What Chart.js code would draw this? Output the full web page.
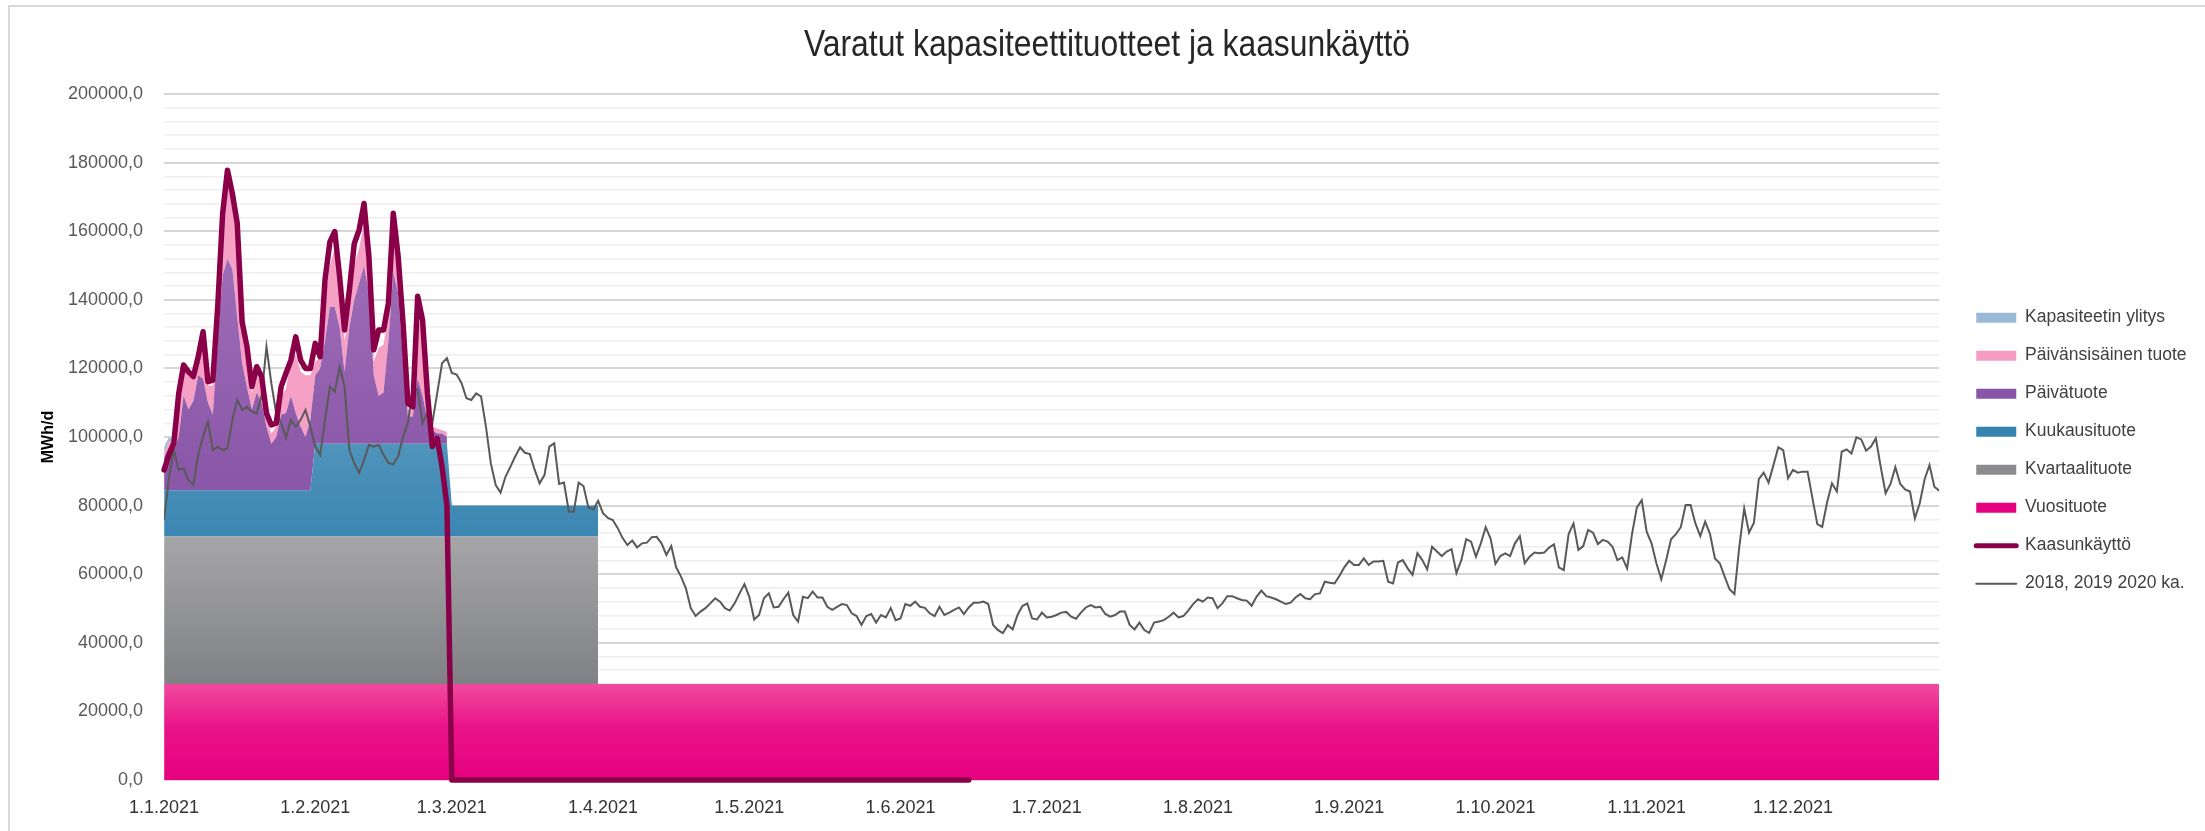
<!DOCTYPE html>
<html lang="fi">
<head>
<meta charset="utf-8">
<title>Varatut kapasiteettituotteet ja kaasunkäyttö</title>
<script src="https://cdn.jsdelivr.net/npm/chart.js@4.4.1/dist/chart.umd.min.js"></script>
<style>
  html, body { margin: 0; padding: 0; background: #fff; overflow: hidden; }
  #frame { position: absolute; left: 8px; top: 5px; width: 2400px; height: 1000px;
           border-left: 2px solid #d9d9d9; border-top: 2px solid #d9d9d9; }
  #chart { position: absolute; left: 0; top: 0; }
</style>
</head>
<body>
<div id="frame"></div>
<canvas id="chart" width="2205" height="831"></canvas>
<script>
const SANS = "'Liberation Sans', Arial, sans-serif";

// x axis: day of year 2021 (0 = 1.1.), ticks at month starts
const monthLabels = ['1.1.2021', '1.2.2021', '1.3.2021', '1.4.2021', '1.5.2021', '1.6.2021',
  '1.7.2021', '1.8.2021', '1.9.2021', '1.10.2021', '1.11.2021', '1.12.2021'];
const monthStart = [0, 31, 59, 90, 120, 151, 181, 212, 243, 273, 304, 334];

// capacity products as [first day, last day, MWh/d]
const vuosituote = [[0, 364, 28000]];
const kvartaalituote = [[0, 89, 43000]];
const kuukausituote = [[0, 30, 13500], [31, 58, 27000], [59, 89, 9000]];

// daily products 1.1.-28.2. (MWh/d)
const paivatuote = [
  9500, 12500, 11500, 15500, 27500, 23500, 26000, 33500, 32500, 25500, 22000, 43500, 62500, 67500, 64500, 50500,
  37000, 30000, 23500, 28500, 25500, 18500, 13500, 15500, 22000, 22500, 27500, 22500, 18500, 15500, 20500,
  20000, 22000, 30000, 40000, 40000, 34000, 21000, 34000, 42000, 47000, 52000, 44000, 20000, 14000,
  15000, 30000, 50000, 44000, 24000, 8000, 8000, 19000, 14000, 7000, 4000, 3000, 3000, 2000];
const paivansisainen = [
  1500, 1500, 3000, 10000, 8000, 10000, 6500, 5000, 11000, 5000, 8500, 8000, 15000, 23000, 19000, 23000,
  9500, 7500, 5000, 5000, 6000, 3000, 3000, 3000, 5500, 7000, 10000, 17000, 16000, 18000, 13000,
  4000, 3000, 12000, 12000, 17000, 11000, 9000, 6000, 10000, 10000, 12000, 6000, 4000, 14000,
  14000, 7000, 10000, 6000, 6000, 2000, 2000, 18000, 18000, 5000, 1000, 1500, 1000, 1500];
const ylitys = [
  1500, 1500, 0, 0, 2000, 0, 0, 0, 0, 0, 0, 0, 0, 1000, 0, 0,
  0, 0, 0, 3000, 0, 0, 0, 0, 0, 0, 1000, 0, 0, 0, 0,
  0, 0, 0, 0, 0, 0, 0, 0, 0, 0, 0, 0, 0, 0,
  0, 0, 0, 0, 0, 0, 0, 0, 0, 0, 0, 0, 0, 0];

// gas use 1.1.-28.2., after that zero until 15.6.
const kaasunkaytto = [
  90400, 94800, 98200, 112700, 121000, 119000, 117600, 123400, 130700, 116100, 116600, 138000, 165000, 177800, 171000, 162300,
  133600, 126300, 114700, 120500, 117600, 106900, 103500, 104000, 114700, 118600, 122400, 129200, 122400, 120000, 120000,
  127300, 123400, 145800, 156900, 159900, 146700, 131200, 142900, 156400, 160400, 168100, 152600, 125400, 131200,
  131200, 139000, 165200, 152600, 133200, 109800, 108800, 141000, 134100, 112700, 97200, 99600, 91300, 80000];
const kaasuNolla = [59, 165];

// 2018, 2019 2020 average, one value per day
const keskiarvo = [
  // tammi
  75800, 88000, 96200, 90400, 90800, 87400, 86000, 94800, 100100, 104500, 96200, 97200, 96200, 96700, 105000, 110800,
  107900, 108800, 107400, 106900, 112000, 126300, 115600, 106900, 104000, 99700, 105000, 103000, 105000, 107900, 103000,
  // helmi
  97200, 94800, 105000, 114700, 113200, 120500, 114700, 96200, 92400, 89500, 93300, 97700, 97200, 97700,
  94800, 92400, 92000, 94400, 100100, 104000, 114700, 113700, 104000, 106900, 104000, 112700, 121500, 123000,
  // maalis
  118700, 118200, 115700, 111300, 110800, 112700, 111800, 103000, 92300, 86000, 83800, 88400, 91300, 94300, 97000, 95400,
  95000, 90400, 86500, 88900, 97200, 98200, 86300, 86700, 78200, 78200, 86700, 85700, 79500, 78900, 81400,
  // huhti
  77800, 76400, 75800, 73500, 70600, 68500, 69800, 67800, 69000, 69200, 70800, 70900, 69000, 65600, 68200,
  62000, 59300, 55900, 50100, 47800, 49100, 50100, 51500, 53000, 52000, 50100, 49400, 51500, 54400, 57100,
  // touko
  53400, 46800, 48100, 53000, 54400, 50300, 50500, 52700, 54600, 48100, 46200, 53400, 53000, 54900, 53200, 53200,
  50500, 49600, 50500, 51300, 51000, 48600, 47800, 45200, 47800, 48400, 45900, 48100, 47400, 50100, 46600,
  // kesä
  47100, 51300, 50800, 52000, 50500, 50200, 48600, 47800, 50500, 48100, 48800, 49600, 50300, 48400, 50300,
  51700, 51700, 52000, 51300, 45200, 43700, 42800, 45200, 43900, 48100, 50700, 51500, 47100, 46800, 48800,
  // heinä
  47400, 47600, 48100, 48800, 49000, 47600, 47000, 48800, 50300, 51000, 50300, 50500, 48400, 47600, 48100, 49100,
  49100, 45200, 43900, 45900, 43700, 42900, 45900, 46200, 46600, 47600, 48800, 47400, 47800, 49400, 51300,
  // elo
  52700, 52000, 53200, 53000, 50100, 51500, 53600, 53600, 53000, 52500, 52300, 50800, 53400, 55200, 53600, 53200,
  52700, 52000, 51300, 51700, 53200, 54200, 53000, 52700, 54200, 54400, 57800, 57500, 57300, 59500, 62000,
  // syys
  63900, 62700, 62700, 64600, 62700, 63700, 63700, 63900, 57800, 57300, 63400, 64100, 61700, 59800, 66100,
  64100, 61400, 68000, 66600, 65300, 66600, 67300, 60300, 64100, 70200, 69500, 65100, 69000, 73700, 70400,
  // loka
  63000, 65300, 66100, 65300, 69000, 71100, 63200, 65100, 66300, 66100, 66300, 67800, 68700, 62000, 61200, 71700,
  74800, 67100, 68200, 72900, 72100, 68800, 70000, 69500, 68000, 64100, 64900, 61700, 71700, 79500, 81600,
  // marras
  72400, 69000, 63200, 58500, 64100, 70200, 71700, 73700, 80200, 80200, 74800, 71100, 75300, 71700, 64600,
  63200, 59300, 55600, 54200, 68000, 79200, 72100, 75000, 87700, 89600, 86700, 91800, 97000, 96200, 88000,
  // joulu
  90400, 89600, 89900, 89900, 82100, 74600, 73800, 80900, 86500, 84100, 95700, 96400, 95200, 99900, 99300, 96000,
  97200, 99600, 91300, 83600, 86300, 91200, 86300, 84700, 84100, 76300, 80700, 87700, 91800, 85500, 84300];

function daily(values) {
  return values.map((v, i) => ({ x: i, y: v }));
}

function periods(list) {
  const out = [];
  list.forEach(([first, last, v]) => {
    for (let d = first; d <= last; d++) out.push({ x: d, y: v });
  });
  return out;
}

function gradient(top, bottom, stops) {
  return function (ctx) {
    const chart = ctx.chart;
    const y = chart.scales && chart.scales.y;
    const fallback = stops[stops.length - 1][1];
    if (!chart.chartArea || !y) return fallback;
    const y0 = y.getPixelForValue(top);
    const y1 = y.getPixelForValue(bottom);
    if (!isFinite(y0) || !isFinite(y1)) return fallback;
    const g = chart.ctx.createLinearGradient(0, y0, 0, y1);
    stops.forEach(([o, c]) => g.addColorStop(o, c));
    return g;
  };
}

function area(label, data, fill, bg, legendColor) {
  return {
    label, data, fill, order: 1,
    backgroundColor: bg,
    borderColor: 'rgba(0,0,0,0)',
    borderWidth: 0,
    pointRadius: 0,
    pointHoverRadius: 0,
    tension: 0,
    legendColor
  };
}

const datasets = [
  area('Vuosituote', periods(vuosituote), 'origin',
    gradient(28000, 0, [[0, '#f04a9d'], [0.45, '#ea1389'], [1, '#e6007e']]), '#e6007e'),
  area('Kvartaalituote', periods(kvartaalituote), '-1',
    gradient(71000, 28000, [[0, '#a6a6a8'], [1, '#808185']]), '#8c8c8e'),
  area('Kuukausituote', periods(kuukausituote), '-1',
    gradient(98000, 71000, [[0, '#4f94bb'], [1, '#3b86b2']]), '#3584b0'),
  area('Päivätuote', daily(paivatuote), '-1',
    gradient(160000, 85000, [[0, '#a06fb8'], [1, '#8a56a8']]), '#8a55a8'),
  area('Päivänsisäinen tuote', daily(paivansisainen), '-1', '#f6a0c5', '#f59cc3'),
  area('Kapasiteetin ylitys', daily(ylitys), '-1', '#9fbdd9', '#9ab9d6'),
  {
    label: 'Kaasunkäyttö',
    data: daily(kaasunkaytto).concat(kaasuNolla.map(d => ({ x: d, y: 0 }))),
    stack: 'kaasu', order: 0, fill: false,
    borderColor: '#8a0048', borderWidth: 5.5,
    borderJoinStyle: 'round', borderCapStyle: 'round',
    pointRadius: 0, tension: 0, clip: 8,
    legendColor: '#8a0048', legendLine: 5
  },
  {
    label: '2018, 2019 2020 ka.',
    data: daily(keskiarvo),
    stack: 'ka', order: 0, fill: false,
    borderColor: '#595959', borderWidth: 2,
    pointRadius: 0, tension: 0,
    legendColor: '#595959', legendLine: 2
  }
];

// legend order as in the original
const legendOrder = [5, 4, 3, 2, 1, 0, 6, 7];

// legend a bit off the plot, title drawn in a narrow face like the original
const chartTweaks = {
  id: 'chartTweaks',
  afterLayout(chart) {
    const lg = chart.legend;
    const dx = chart.chartArea.right + 37 - (lg.left + lg.options.labels.padding);
    lg.left += dx;
    lg.right += dx;
    lg.top += 41;
    lg.bottom += 41;

    const tb = chart.titleBlock;
    if (tb && !tb._narrow) {
      const orig = tb.draw;
      tb.draw = function (area) {
        const c = this.ctx;
        const cx = (this.left + this.right) / 2;
        c.save();
        c.translate(cx + 12, 0);
        c.scale(0.86, 1);
        c.translate(-cx, 0);
        orig.call(this, area);
        c.restore();
      };
      tb._narrow = true;
    }
  }
};

new Chart(document.getElementById('chart'), {
  type: 'line',
  data: { datasets },
  plugins: [chartTweaks],
  options: {
    responsive: false,
    animation: false,
    events: [],
    layout: { padding: { left: 10, right: 25, top: 0, bottom: 11.7 } },
    scales: {
      x: {
        type: 'linear',
        min: 0,
        max: 364,
        grid: { display: false, drawTicks: false },
        border: { display: false },
        afterBuildTicks: axis => { axis.ticks = monthStart.map(v => ({ value: v })); },
        afterFit: s => { s.height -= s.options.ticks.padding; },
        ticks: {
          autoSkip: false,
          maxRotation: 0,
          padding: 17.7,
          color: '#333333',
          font: { family: SANS, size: 18 },
          callback: (value, index) => monthLabels[index]
        }
      },
      y: {
        stacked: true,
        min: 0,
        max: 200000,
        border: { display: false },
        afterFit: s => { s.width -= s.options.ticks.padding; },
        grid: {
          drawTicks: false,
          color: c => (c.tick && c.tick.value % 20000 === 0) ? '#d6d6d6' : '#eeeeee',
          lineWidth: c => (c.tick && c.tick.value % 20000 === 0) ? 2 : 1.5
        },
        ticks: {
          stepSize: 4000,
          maxTicksLimit: 60,
          autoSkip: false,
          padding: 21,
          color: '#595959',
          font: { family: SANS, size: 18 },
          callback: v => v % 20000 === 0 ? v.toFixed(1).replace('.', ',') : ''
        },
        title: {
          display: true,
          text: 'MWh/d',
          color: '#000000',
          font: { family: SANS, size: 16, weight: 'bold' },
          padding: { top: 29.4, bottom: 9.4 }
        }
      }
    },
    plugins: {
      title: {
        display: true,
        text: 'Varatut kapasiteettituotteet ja kaasunkäyttö',
        color: '#262626',
        font: { family: SANS, size: 37, weight: 'normal' },
        padding: { top: 23.8, bottom: 25.8 }
      },
      legend: {
        position: 'right',
        labels: {
          usePointStyle: true,
          pointStyleWidth: 40,
          boxHeight: 10,
          padding: 20.5,
          color: '#404040',
          font: { family: SANS, size: 17.5 },
          generateLabels: chart => legendOrder.map(i => {
            const ds = chart.data.datasets[i];
            return {
              text: ds.label,
              datasetIndex: i,
              fillStyle: ds.legendColor,
              strokeStyle: ds.legendColor,
              lineWidth: ds.legendLine || 0,
              lineCap: 'round',
              pointStyle: ds.legendLine ? 'line' : 'rect',
              fontColor: '#404040',
              hidden: false
            };
          })
        }
      },
      tooltip: { enabled: false }
    }
  }
});
</script>
</body>
</html>
